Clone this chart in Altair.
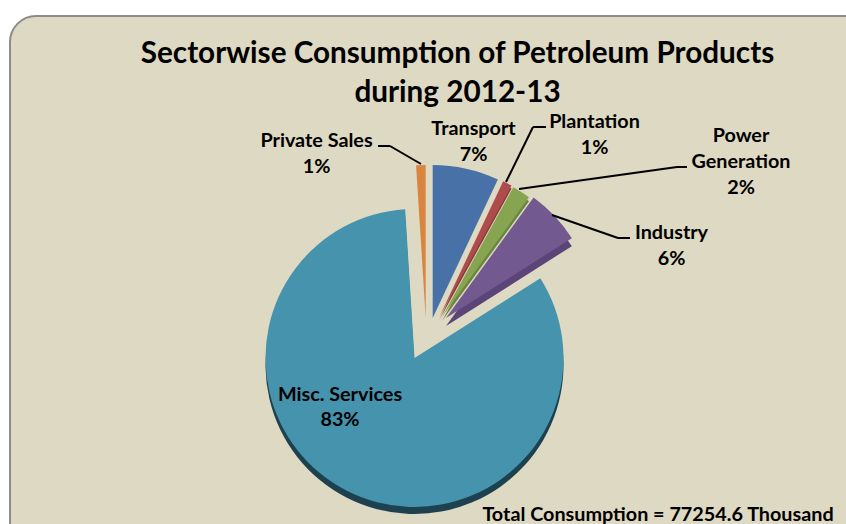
import altair as alt
import math
import pandas as pd

# Sector shares of petroleum consumption, clockwise from Transport, in percent
sectors = ["Transport", "Plantation", "Power Generation", "Industry", "Misc. Services", "Private Sales"]
shares = [7, 1, 2, 6, 83, 1]
face_colors = ["#4872a7", "#ad4c4a", "#87a550", "#72598f", "#4593ad", "#d98540"]
side_colors = ["#38598a", "#8a3a38", "#6a8540", "#5b4477", "#1e4150", "#a86530"]

# Exploded slice centres and radii, in pixels of the 846x524 canvas
centers = {
    "Transport": (432.7, 318), "Plantation": (439.3, 317), "Power Generation": (442, 317),
    "Industry": (446, 318), "Misc. Services": (414.5, 358), "Private Sales": (425.7, 318),
}
radii = {
    "Transport": 153, "Plantation": 150, "Power Generation": 148,
    "Industry": 149, "Misc. Services": 149, "Private Sales": 153,
}
depth = {"Transport": 0, "Plantation": 3, "Power Generation": 4, "Industry": 8, "Misc. Services": 7, "Private Sales": 0}

LABEL_FONT = "Lato"

rows = []
cum = 0.0
total = sum(shares)
for name, share in zip(sectors, shares):
    start = cum / total * 2 * math.pi
    stop = start + share / total * 2 * math.pi
    cum += share
    rows.append({"sector": name, "share": share, "start": start, "stop": stop})
table = pd.DataFrame(rows)

# Rounded panel behind everything; it runs past the right and bottom edges
panel = alt.Chart(pd.DataFrame({"a": [0]})).mark_rect(
    cornerRadius=26, fill="#ddd9c3", stroke="#8c8c8c", strokeWidth=2
).encode(x=alt.value(10), x2=alt.value(900), y=alt.value(16), y2=alt.value(580))

layers = [panel]

# Extruded sides first, then the top faces
for i, name in enumerate(sectors):
    cx, cy = centers[name]
    sub = table[table.sector == name]
    if depth[name]:
        layers.append(
            alt.Chart(sub).mark_arc(radius=radii[name], color=side_colors[i]).encode(
                theta=alt.Theta("start:Q", scale=None),
                theta2="stop:Q",
                x=alt.value(cx),
                y=alt.value(cy + depth[name]),
            )
        )
for i, name in enumerate(sectors):
    cx, cy = centers[name]
    sub = table[table.sector == name]
    layers.append(
        alt.Chart(sub).mark_arc(radius=radii[name], color=face_colors[i]).encode(
            theta=alt.Theta("start:Q", scale=None),
            theta2="stop:Q",
            x=alt.value(cx),
            y=alt.value(cy),
        )
    )

# Leader lines as pixel segments
segments = [
    (378, 146, 390, 146), (390, 146, 421, 164),
    (546, 127, 533, 127), (533, 127, 506, 182),
    (519, 189, 677, 167), (677, 167, 687, 167),
    (552, 215, 618, 238), (618, 238, 630, 238),
]
for x1, y1, x2, y2 in segments:
    layers.append(
        alt.Chart(pd.DataFrame({"a": [0]})).mark_rule(color="#000000", strokeWidth=2).encode(
            x=alt.value(x1), x2=alt.value(x2), y=alt.value(y1), y2=alt.value(y2)
        )
    )

# Text placed by its centre and baseline
texts = [
    ("Sectorwise Consumption of Petroleum Products", 457.5, 63, 29.7),
    ("during 2012-13", 457.5, 102, 29.7),
    ("Private Sales", 316.5, 147, 19.8),
    ("1%", 316.5, 173, 19.8),
    ("Transport", 473.5, 135, 19.8),
    ("7%", 473.5, 161, 19.8),
    ("Plantation", 594.5, 128, 19.8),
    ("1%", 594.5, 154, 19.8),
    ("Power", 741, 142, 19.8),
    ("Generation", 741, 168, 19.8),
    ("2%", 741, 194, 19.8),
    ("Industry", 671.5, 239, 19.8),
    ("6%", 671.5, 265, 19.8),
    ("Misc. Services", 340, 401, 19.8),
    ("83%", 340, 426, 19.8),
    ("Total Consumption = 77254.6 Thousand", 658, 521, 19.8),
]
for content, tx, ty, size in texts:
    layers.append(
        alt.Chart(pd.DataFrame({"t": [content]})).mark_text(
            font=LABEL_FONT, fontWeight="bold", fontSize=size, color="#000000",
            align="center", baseline="alphabetic",
        ).encode(text="t:N", x=alt.value(tx), y=alt.value(ty))
    )

chart = alt.layer(*layers).properties(
    width=846, height=524, padding=0, background="#ffffff",
    autosize=alt.AutoSizeParams(type="none"),
).configure_view(stroke=None)

chart.save("out.html", embed_options={"renderer": "svg", "actions": False})
